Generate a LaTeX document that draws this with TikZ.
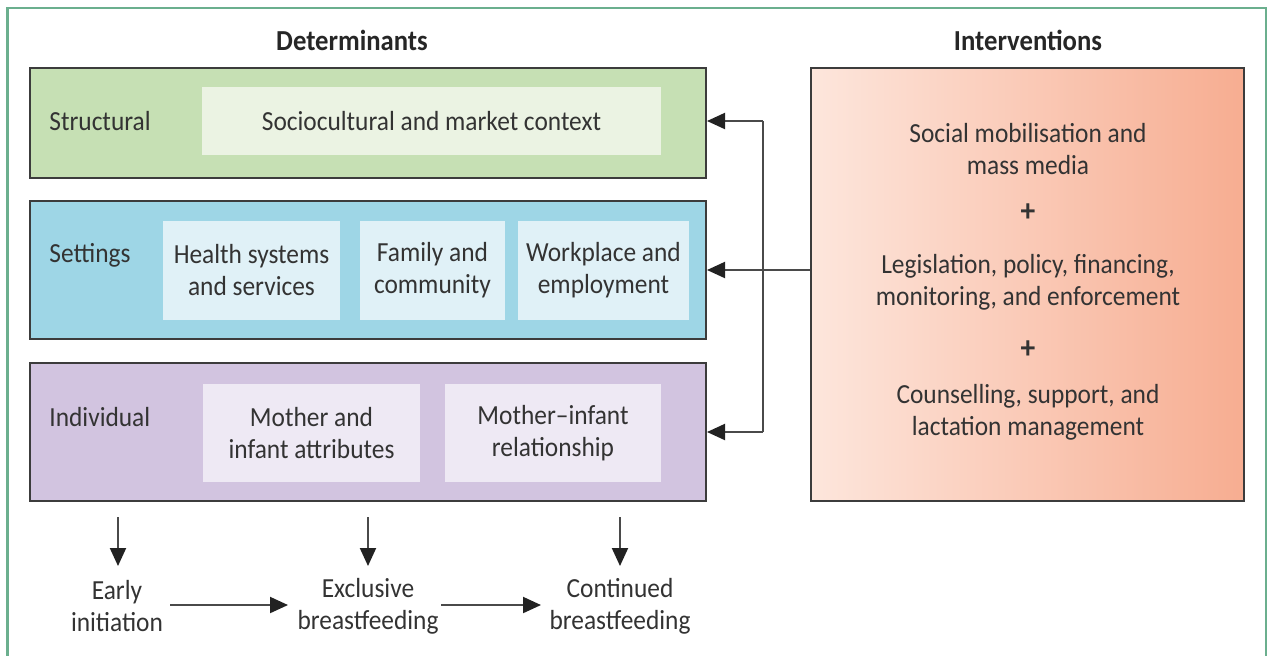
\documentclass[tikz,border=0pt]{standalone}
\usepackage{fontspec}
\setmainfont{Carlito}[FakeStretch=0.92]
\usetikzlibrary{arrows.meta}
\definecolor{frameg}{HTML}{6BAF8E}
\definecolor{txt}{HTML}{333333}
\definecolor{bord}{HTML}{3C3C3C}
\definecolor{strA}{HTML}{C6E0B4}
\definecolor{strB}{HTML}{EBF3E3}
\definecolor{setA}{HTML}{9ED6E6}
\definecolor{setB}{HTML}{E0F1F7}
\definecolor{indA}{HTML}{D2C4E0}
\definecolor{indB}{HTML}{EEE9F4}
\definecolor{intL}{HTML}{FDE6DC}
\definecolor{intR}{HTML}{F7AD91}
\definecolor{conn}{HTML}{4A4A4A}
\definecolor{tipc}{HTML}{222222}
\tikzset{
  outerbox/.style={draw=bord, line width=1pt, minimum width=338pt, inner sep=0pt},
  innerbox/.style={draw=none, align=center, inner sep=0pt, text=txt, font=\fontsize{13.8}{16}\selectfont},
  lbl/.style={anchor=west, text=txt, font=\fontsize{13.8}{16}\selectfont, inner sep=0pt},
  plain/.style={align=center, text=txt, font=\fontsize{13.8}{16}\selectfont, inner sep=0pt},
  title/.style={text=black!85, font=\bfseries\fontsize{14.5}{16}\selectfont, inner sep=0pt},
  arr/.style={draw=conn, line width=1pt, -{Triangle[length=9pt,width=8pt,fill=tipc,color=tipc]}},
  ln/.style={draw=conn, line width=1pt}
}
\begin{document}
\begin{tikzpicture}[x=0.5pt,y=-0.5pt]
\useasboundingbox (0,0) rectangle (1269,655);
\draw[frameg, line width=1.2pt] (7.5,660) -- (7.5,8) -- (1266,8) -- (1266,660);

\node[title] (dtitle) at (352,40) {Determinants};
\node[title] (ititle) at (1028,40) {Interventions};

% Structural
\node[outerbox, fill=strA, minimum height=55pt] (struct) at (368,123) {};
\node[innerbox, fill=strB, minimum width=229.5pt, minimum height=34pt] (sociocult) at (431.5,121) {Sociocultural and market context};
\node[lbl] (structlbl) at (49,121) {Structural};

% Settings
\node[outerbox, fill=setA, minimum height=69pt] (settings) at (368,270) {};
\node[innerbox, fill=setB, minimum width=88.5pt, minimum height=49.5pt] (health) at (251.5,270.5) {Health systems\\and services};
\node[innerbox, fill=setB, minimum width=72.5pt, minimum height=49.5pt] (family) at (432.5,270.5) {Family and\\community};
\node[innerbox, fill=setB, minimum width=85.5pt, minimum height=49.5pt] (work) at (603.5,270.5) {Workplace and\\employment};
\node[lbl] (setlbl) at (49,255) {Settings};

% Individual
\node[outerbox, fill=indA, minimum height=69pt] (indiv) at (368,432) {};
\node[innerbox, fill=indB, minimum width=108.5pt, minimum height=49pt] (mother) at (311.5,433) {Mother and\\infant attributes};
\node[innerbox, fill=indB, minimum width=108pt, minimum height=49pt] (mirel) at (553,433) {Mother–infant\\relationship};
\node[lbl] (indlbl) at (49,417) {Individual};

% Interventions
\node[draw=bord, line width=1pt, left color=intL, right color=intR, minimum width=216.5pt, minimum height=216.5pt, inner sep=0pt] (interv) at (1027.5,284.5) {};
\node[plain] (i1) at (1028,149) {Social mobilisation and\\mass media};
\node[plain, font=\bfseries\fontsize{16}{16}\selectfont] (p1) at (1028,213) {+};
\node[plain] (i2) at (1028,282) {Legislation, policy, financing,\\monitoring, and enforcement};
\node[plain, font=\bfseries\fontsize{16}{16}\selectfont] (p2) at (1028,350) {+};
\node[plain] (i3) at (1028,412) {Counselling, support, and\\lactation management};

% Connectors from interventions
\coordinate (jtop) at (763,121);
\coordinate (jmid) at (763,270);
\coordinate (jbot) at (763,432);
\draw[ln] (jtop) -- (jbot);
\draw[arr] (interv.west |- jmid) -- (settings.east |- jmid);
\draw[arr] (jtop) -- (struct.east |- jtop);
\draw[arr] (jbot) -- (indiv.east |- jbot);

% Outcomes
\node[plain] (early) at (117,606) {Early\\initiation};
\node[plain] (excl) at (368,606) {Exclusive\\breastfeeding};
\node[plain] (cont) at (620,606) {Continued\\breastfeeding};
\coordinate (d1) at (118,517);
\coordinate (d2) at (368,517);
\coordinate (d3) at (620,517);
\draw[arr] (d1) -- (118,566);
\draw[arr] (d2) -- (368,566);
\draw[arr] (d3) -- (620,566);
\draw[arr] (170,605) -- (288,605);
\draw[arr] (441,605) -- (541,605);
\end{tikzpicture}
\end{document}
